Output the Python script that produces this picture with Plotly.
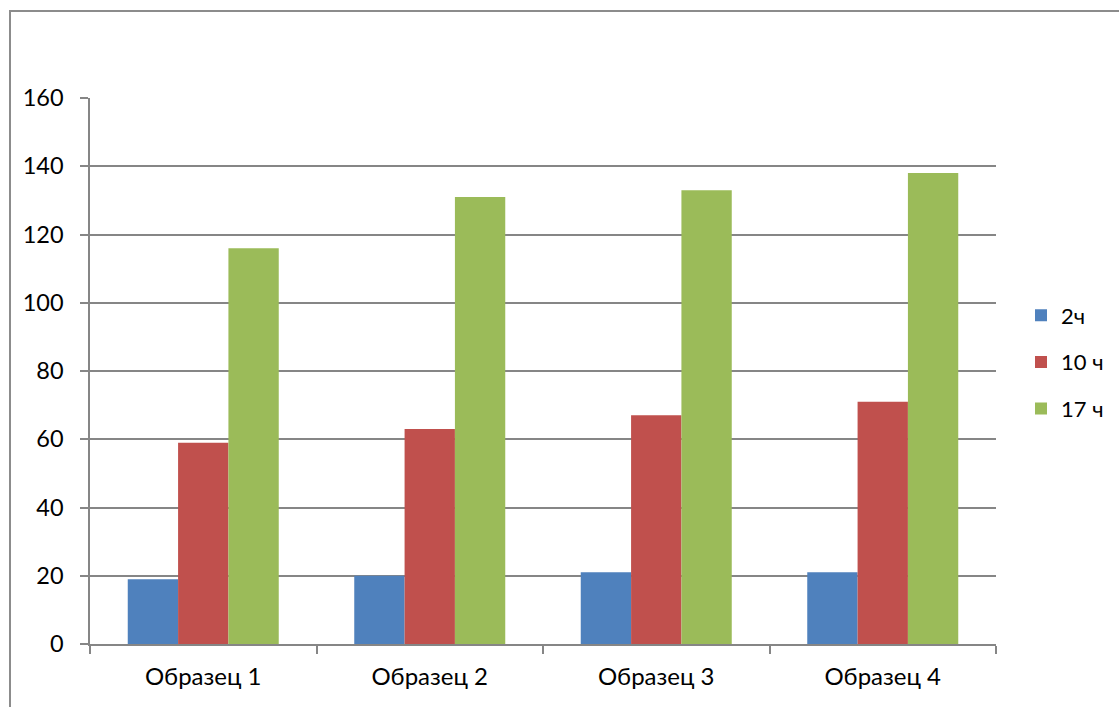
import plotly.graph_objects as go

categories = ["Образец 1", "Образец 2", "Образец 3", "Образец 4"]
series_names = ["2ч", "10 ч", "17 ч"]
values_2h = [19, 20, 21, 21]
values_10h = [59, 63, 67, 71]
values_17h = [116, 131, 133, 138]
colors = ["#4F81BD", "#C0504D", "#9BBB59"]
y_ticks = [0, 20, 40, 60, 80, 100, 120, 140, 160]

FONT = "Lato, 'Open Sans', sans-serif"
GRID = "#868686"

fig = go.Figure()
for i, (name, vals) in enumerate(zip(series_names, [values_2h, values_10h, values_17h])):
    fig.add_trace(go.Bar(
        x=categories, y=vals, name=name,
        marker=dict(color=colors[i], line=dict(width=0)),
        legendgroup=name,
    ))

W, H = 1119, 707
L, R, T, B = 90, 123, 98, 63
pw, ph = W - L - R, H - T - B

def px_x(px):
    return (px - L) / pw

def px_y(py):
    return (H - B - py) / ph

fig.update_layout(
    width=W, height=H, autosize=False,
    margin=dict(l=L, r=R, t=T, b=B, autoexpand=False),
    paper_bgcolor="white", plot_bgcolor="white",
    font=dict(family=FONT, size=22, color="#000000"),
    barmode="group", bargap=1/3, bargroupgap=0,
    showlegend=True,
    legend=dict(
        x=px_x(1021), xanchor="left",
        y=px_y(362), yanchor="middle",
        traceorder="grouped", tracegroupgap=15,
        font=dict(family=FONT, size=22),
        itemwidth=30,
        bgcolor="rgba(0,0,0,0)",
    ),
    xaxis=dict(
        showline=True, linecolor=GRID, linewidth=1.5,
        ticks="outside", ticklen=8, tickcolor=GRID, tickwidth=1.5,
        tickson="boundaries", showgrid=False,
        ticklabelstandoff=10,
        tickfont=dict(family=FONT, size=24),
    ),
    yaxis=dict(
        range=[0, 160], tickvals=y_ticks,
        showline=True, linecolor=GRID, linewidth=1.5,
        ticks="outside", ticklen=8, tickcolor=GRID, tickwidth=1.5,
        showgrid=True, gridcolor=GRID, gridwidth=1.5,
        zeroline=False,
        ticklabelstandoff=12,
        tickfont=dict(family=FONT, size=23.5),
    ),
    shapes=[dict(
        type="rect", xref="paper", yref="paper",
        x0=px_x(10), x1=px_x(1140), y0=px_y(730), y1=px_y(11),
        line=dict(color="#8C8C8C", width=2), fillcolor="rgba(0,0,0,0)",
        layer="below",
    )],
)

fig.write_html("out.html")
